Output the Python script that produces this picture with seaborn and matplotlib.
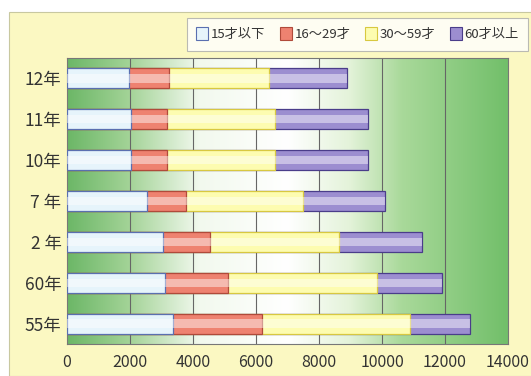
import numpy as np
import pandas as pd
import seaborn as sns
import matplotlib.pyplot as plt
from matplotlib.colors import LinearSegmentedColormap
from matplotlib.patches import Patch, Rectangle

sns.set_style("white")
plt.rcParams['font.family'] = ['Noto Sans CJK JP', 'DejaVu Sans']

years = ["12年", "11年", "10年", "7 年", "2 年", "60年", "55年"]
age_groups = ["15才以下", "16～29才", "30～59才", "60才以上"]
under15 = [1960, 2040, 2040, 2540, 3040, 3100, 3350]
age16_29 = [1270, 1120, 1120, 1250, 1500, 2020, 2830]
age30_59 = [3190, 3440, 3440, 3690, 4080, 4720, 4720]
over60 = [2470, 2940, 2940, 2620, 2640, 2050, 1880]

colors = ["#e6f4fb", "#ee8270", "#fdfcb0", "#9c8ed0"]
edges = ["#5a6fb0", "#b04a3a", "#d8c840", "#4a3d8a"]

df = pd.DataFrame({"year": years})
segments = [under15, age16_29, age30_59, over60]
cum = np.zeros(len(years))
for name, seg in zip(age_groups, segments):
    cum = cum + np.array(seg)
    df[name] = cum

fig = plt.figure(figsize=(5.31, 3.76), dpi=100)
fig.patch.set_facecolor("white")
# chart area
fig.patches.append(Rectangle((9 / 531, 0), 1, 1 - 12 / 376, transform=fig.transFigure,
                             facecolor="#fbf8c2", edgecolor="#c8c8a0", lw=0.8, zorder=-5))

ax = fig.add_axes([67 / 531, 1 - 344 / 376, 441 / 531, 286 / 376])

# wall gradient green - white - green
wall = LinearSegmentedColormap.from_list(
    "wall", [(0, "#6cb767"), (0.14, "#a3d397"), (0.3, "#f2f9ee"), (0.5, "#ffffff"),
             (0.64, "#e4f3da"), (0.76, "#a9d99a"), (1, "#72bf6a")])
grad = np.linspace(0, 1, 256).reshape(1, -1)
ax.imshow(grad, cmap=wall, aspect="auto", extent=[0, 14000, 6.5, -0.5], zorder=0)

for name, c, e in reversed(list(zip(age_groups, colors, edges))):
    sns.barplot(data=df, x=name, y="year", order=years, orient="h", color=c,
                width=0.49, edgecolor=e, linewidth=0.9, saturation=1, ax=ax, zorder=3)
# cylinder-like highlight along the middle of each bar
sns.barplot(data=df, x=age_groups[-1], y="year", order=years, orient="h", color="white",
            width=0.2, linewidth=0, saturation=1, alpha=0.45, ax=ax, zorder=4)

ax.set_xlim(0, 14000)
ax.set_ylim(6.5, -0.5)
ax.set_xticks(range(0, 14001, 2000))
for x in range(2000, 14000, 2000):
    ax.axvline(x, color="#666666", lw=0.8, zorder=1)
ax.set_xlabel("")
ax.set_ylabel("")
ax.tick_params(axis="both", length=0, colors="#333333")
ax.tick_params(axis="x", pad=7, labelsize=11.5)
ax.tick_params(axis="y", pad=4, labelsize=12.5)
ax.set_yticks(np.arange(0.5, 6, 1), minor=True)
ax.tick_params(axis="y", which="minor", direction="in", length=4, color="#3d7a3a", width=1)
for s in ax.spines.values():
    s.set_color("#777777")
    s.set_linewidth(0.8)

handles = [Patch(facecolor=c, edgecolor=e, lw=0.8) for c, e in zip(colors, edges)]
leg = fig.legend(handles, age_groups, ncol=4, loc="upper left",
                 bbox_to_anchor=(180 / 531, 1 - 11 / 376), fontsize=9.5,
                 frameon=True, handlelength=0.9, handleheight=1.1, handletextpad=0.2,
                 columnspacing=1.1, borderpad=0.75, fancybox=False)
leg.get_frame().set_edgecolor("#aaaaaa")
leg.get_frame().set_linewidth(0.8)
for t in leg.get_texts():
    t.set_color("#333333")

fig.savefig("out.png", dpi=100)
